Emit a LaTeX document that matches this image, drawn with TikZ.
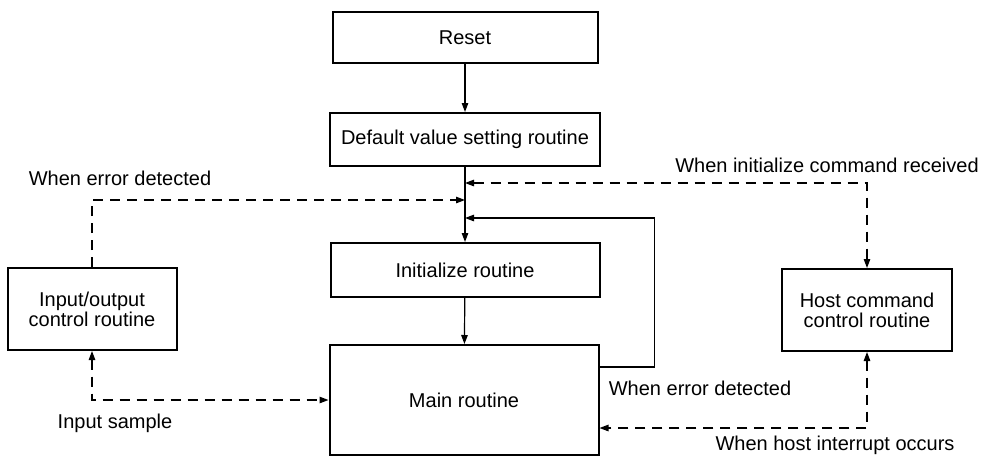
\documentclass[tikz,border=0pt]{standalone}
\usepackage{fontspec}
\setmainfont{Liberation Sans}
\usetikzlibrary{arrows.meta,calc}
\begin{document}
\begin{tikzpicture}[x=1pt,y=-1pt,
  box/.style={draw,line width=2pt,minimum width=#1,inner sep=0pt,align=center,font=\fontsize{20}{20}\selectfont},
  conn/.style={line width=1.2pt,-{Triangle[length=9pt,width=6.5pt]}},
  dconn/.style={line width=1.2pt,dash pattern=on 10pt off 7pt},
  tip/.style={{Triangle[length=9pt,width=6.5pt]}},
  lbl/.style={font=\fontsize{20}{20}\selectfont,inner sep=0pt}]
\useasboundingbox (0,0) rectangle (985,456);
\node[box=265pt,minimum height=51pt] (reset) at (465,37.5) {Reset};
\node[box=270pt,minimum height=53pt] (def) at (465,139.5) {Default value setting routine};
\node[box=269pt,minimum height=54pt] (init) at (465,270) {Initialize routine};
\node[box=269pt,minimum height=110pt] (main) at (464,400) {Main routine};
\node[box=169pt,minimum height=82pt] (io) at (92,309) {Input/output\\control routine};
\node[box=170pt,minimum height=82pt] (host) at (867,310) {Host command\\control routine};
\coordinate (j1) at (465,183);
\coordinate (j2) at (465,200);
\coordinate (j3) at (465,218);
\path (main.east) ++(0,28) coordinate (mi);
\path (main.east) ++(0,-33) coordinate (lo);
\draw[conn] (reset) -- (def);
\draw[conn] (def) -- (init);
\draw[conn] (init) -- (main);
\draw[conn] (lo) -- ++(55,0) |- (j3);
\draw[dconn,-{Triangle[length=9pt,width=6.5pt]}] (io.north) |- (j2);
\draw[dconn,{Triangle[length=9pt,width=6.5pt]}-{Triangle[length=9pt,width=6.5pt]}] (io.south) |- (main.west);
\draw[dconn,{Triangle[length=9pt,width=6.5pt]}-{Triangle[length=9pt,width=6.5pt]}] (j1) -| (host.north);
\draw[dconn,{Triangle[length=9pt,width=6.5pt]}-{Triangle[length=9pt,width=6.5pt]}] (host.south) |- (mi);
\node[lbl] (l1) at (120,178) {When error detected};
\node[lbl] (l2) at (115,423) {Input sample};
\node[lbl] (l3) at (827,165) {When initialize command received};
\node[lbl] (l4) at (700,388) {When error detected};
\node[lbl] (l5) at (835,445) {When host interrupt occurs};
\end{tikzpicture}
\end{document}
